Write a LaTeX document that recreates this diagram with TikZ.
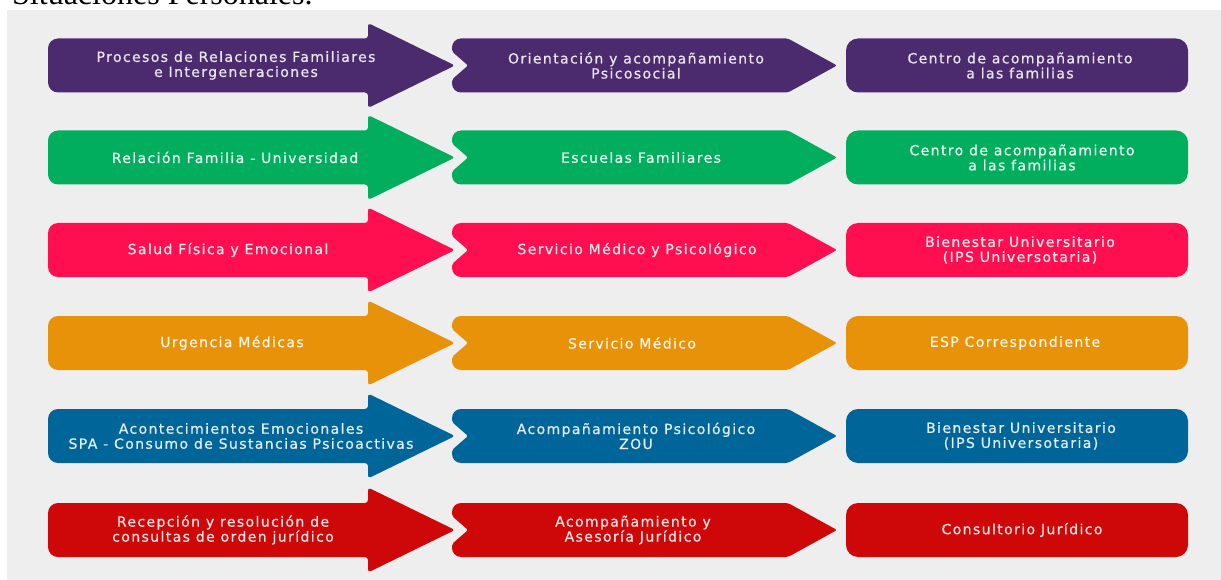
\documentclass[tikz,border=0pt]{standalone}
\usepackage{fontspec}
\setmainfont{Liberation Serif}
\newfontfamily\boxfont[LetterSpace=10,FakeBold=0.8]{DejaVu Sans}
\definecolor{bggray}{HTML}{EEEEEE}
\definecolor{purp}{HTML}{4B2A6D}
\definecolor{grn}{HTML}{00AE5E}
\definecolor{pnk}{HTML}{FF0F50}
\definecolor{org}{HTML}{E8920A}
\definecolor{blu}{HTML}{006598}
\definecolor{rd}{HTML}{CE0808}
\newcommand\shaperow[2]{%
  \fill[#2, rounded corners=3] (368,#1-27) -- (368,#1-42.5) -- (455,#1) -- (368,#1+42.5) -- (368,#1+27) [rounded corners=10] -- (48,#1+27) -- (48,#1-27) [rounded corners=3] -- cycle;
  \fill[#2, rounded corners=9] (452,#1-27) [rounded corners=2] -- (452,#1-14) -- (468,#1) -- (452,#1+14) [rounded corners=9] -- (452,#1+27) [rounded corners=2] -- (788,#1+27) -- (837,#1) -- (788,#1-27) [rounded corners=9] -- cycle;
  \fill[#2, rounded corners=12] (846,#1-27) rectangle (1188,#1+27);
}
\begin{document}
\begin{tikzpicture}[x=1pt,y=-1pt,
  lbl/.style={align=center, inner sep=0pt, font=\boxfont\fontsize{14}{15}\selectfont}]
\useasboundingbox (0,0) rectangle (1221,580);
\clip (0,0) rectangle (1221,580);
\fill[white] (0,0) rectangle (1221,580);
\fill[bggray] (7,10) rectangle (1221,580);
\node[anchor=base west, inner sep=0pt, font=\fontsize{32}{32}\selectfont] (title) at (12,5) {Situaciones Personales.};

\shaperow{65.5}{purp}
\shaperow{157.5}{grn}
\shaperow{250}{pnk}
\shaperow{343}{org}
\shaperow{436}{blu}
\shaperow{530}{rd}

\node[lbl, text=white!88!purp] (a1) at (236,65.5) {Procesos de Relaciones Familiares\\e Intergeneraciones};
\node[lbl, text=white!88!purp] (b1) at (636,65.5) {Orientación y acompañamiento\\Psicosocial};
\node[lbl, text=white!88!purp] (c1) at (1020,65.5) {Centro de acompañamiento\\a las familias};

\node[lbl, text=white!90!grn] (a2) at (235,157.5) {Relación Familia - Universidad};
\node[lbl, text=white!90!grn] (b2) at (641,157.5) {Escuelas Familiares};
\node[lbl, text=white!90!grn] (c2) at (1022,157.5) {Centro de acompañamiento\\a las familias};

\node[lbl, text=white!90!pnk] (a3) at (228,250) {Salud Física y Emocional};
\node[lbl, text=white!90!pnk] (b3) at (637,250) {Servicio Médico y Psicológico};
\node[lbl, text=white!90!pnk] (c3) at (1020,250) {Bienestar Universitario\\(IPS Universotaria)};

\node[lbl, text=white!90!org] (a4) at (232,343) {Urgencia Médicas};
\node[lbl, text=white!90!org] (b4) at (632,343) {Servicio Médico};
\node[lbl, text=white!90!org] (c4) at (1015,343) {ESP Correspondiente};

\node[lbl, text=white!88!blu] (a5) at (241,436) {Acontecimientos Emocionales\\SPA - Consumo de Sustancias Psicoactivas};
\node[lbl, text=white!88!blu] (b5) at (636,436) {Acompañamiento Psicológico\\ZOU};
\node[lbl, text=white!88!blu] (c5) at (1021,436) {Bienestar Universitario\\(IPS Universotaria)};

\node[lbl, text=white!88!rd] (a6) at (223,530) {Recepción y resolución de\\consultas de orden jurídico};
\node[lbl, text=white!88!rd] (b6) at (633,530) {Acompañamiento y\\Asesoría Jurídico};
\node[lbl, text=white!88!rd] (c6) at (1022,530) {Consultorio Jurídico};
\end{tikzpicture}
\end{document}
